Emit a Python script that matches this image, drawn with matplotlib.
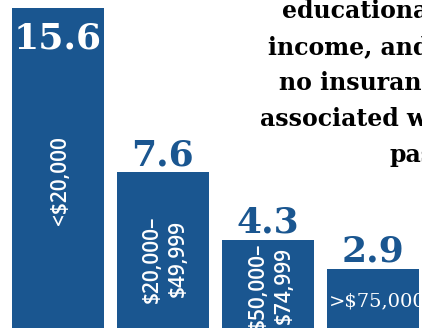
import matplotlib

matplotlib.use("Agg")
import matplotlib.pyplot as plt

BLUE = "#1a5690"

incomes = ["<$20,000", "$20,000–\n$49,999", "$50,000–\n$74,999", ">$75,000"]
rates = [15.6, 7.6, 4.3, 2.9]
heading = ["educational", "income, and", "no insurance", "associated with", "past"]

W, H = 422, 328
fig = plt.figure(figsize=(W / 100, H / 100), dpi=100)
ax = fig.add_axes([0, 0, 1, 1])
ax.set_axis_off()

x = list(range(len(rates)))
ax.bar(x, rates, width=0.876, color=BLUE)
ax.set_xlim(-0.552, 3.467)
ax.set_ylim(0, 16.0)

serif = ["DejaVu Serif"]
sans = ["Open Sans"]

for i, v in enumerate(rates):
    if i == 0:
        # tallest bar: value goes inside the top of the bar
        ax.text(i, v - 1.95, f"{v}", ha="center", va="baseline", color="white",
                fontsize=26, fontweight="bold", family=serif)
    else:
        ax.text(i, v + 0.35, f"{v}", ha="center", va="baseline", color=BLUE,
                fontsize=26, fontweight="bold", family=serif)

# category names sit inside the bars
label_kw = dict(rotation=90, ha="center", va="center", color="white",
                fontsize=15, fontweight="semibold", family=sans,
                linespacing=1.3, multialignment="center")
ax.text(0.02, 7.17, incomes[0], **label_kw)
ax.text(1.02, 3.37, incomes[1], **label_kw)
ax.text(2.03, 2.05, incomes[2], **label_kw)
ax.text(2.58, 1.07, incomes[3], ha="left", va="baseline", color="white",
        fontsize=14, family=serif)

# heading block, clipped at the right edge
lefts = [282, 268, 279, 260, 390]
baselines = [18, 54, 90, 126, 162]
for line, lx, by in zip(heading, lefts, baselines):
    fig.text(lx / W, 1 - by / H, line, ha="left", va="baseline", color="black",
             fontsize=17, fontweight="bold", family=serif)

fig.savefig("out.png", dpi=100)
